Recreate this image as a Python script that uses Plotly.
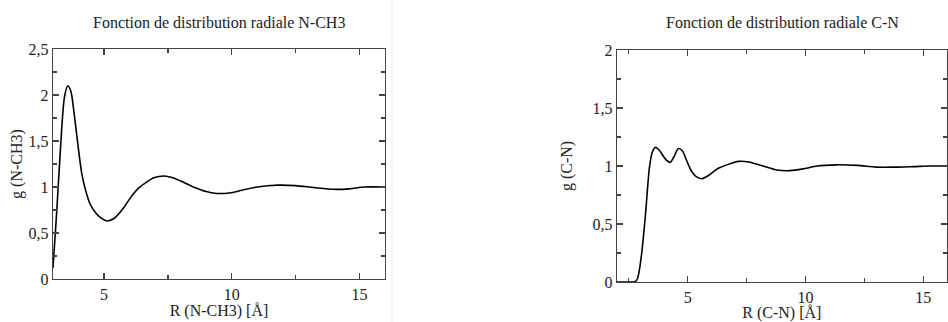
import plotly.graph_objects as go

# Left panel: N-CH3 radial distribution
r_nch3 = [3.0, 3.15, 3.3, 3.45, 3.58, 3.7, 3.8, 3.95, 4.13, 4.3, 4.46, 4.7, 4.9, 5.11, 5.4, 5.77, 6.05, 6.36, 6.65, 6.95, 7.34, 7.7, 8.0, 8.5, 9.0, 9.4, 9.9, 10.4, 11.0, 11.8, 12.5, 13.2, 14.0, 14.6, 15.2, 16.0]
g_nch3 = [0.12, 0.75, 1.45, 1.98, 2.10, 2.04, 1.86, 1.52, 1.14, 0.94, 0.81, 0.71, 0.66, 0.63, 0.66, 0.775, 0.89, 0.99, 1.05, 1.10, 1.12, 1.10, 1.065, 1.0, 0.95, 0.93, 0.935, 0.965, 1.0, 1.02, 1.015, 0.995, 0.975, 0.98, 1.0, 1.0]

# Right panel: C-N radial distribution
r_cn = [2.0, 2.6, 2.75, 2.85, 2.92, 3.05, 3.2, 3.38, 3.5, 3.62, 3.78, 3.95, 4.1, 4.26, 4.42, 4.61, 4.78, 4.95, 5.15, 5.35, 5.6, 5.9, 6.3, 6.8, 7.15, 7.6, 8.2, 8.8, 9.34, 9.9, 10.5, 11.3, 12.2, 13.0, 13.8, 14.6, 15.3, 16.0]
g_cn = [0.0, 0.0, 0.0, 0.02, 0.07, 0.25, 0.56, 0.99, 1.12, 1.16, 1.14, 1.09, 1.05, 1.03, 1.08, 1.15, 1.13, 1.05, 0.96, 0.91, 0.89, 0.92, 0.98, 1.02, 1.04, 1.035, 1.0, 0.965, 0.96, 0.975, 1.0, 1.01, 1.005, 0.99, 0.99, 0.995, 1.0, 1.0]

titles = ["Fonction de distribution radiale N-CH3", "Fonction de distribution radiale C-N"]
xlabels = ["R (N-CH3) [Å]", "R (C-N) [Å]"]
ylabels = ["g (N-CH3)", "g (C-N)"]

FONT = "Times New Roman, Liberation Serif, serif"
AX = "#444444"

fig = go.Figure()
fig.add_trace(go.Scatter(x=r_nch3, y=g_nch3, mode="lines", line=dict(color="black", width=1.6, shape="spline", smoothing=0.8),
                         xaxis="x", yaxis="y", showlegend=False, hoverinfo="skip"))
fig.add_trace(go.Scatter(x=r_cn, y=g_cn, mode="lines", line=dict(color="black", width=1.6, shape="spline", smoothing=0.8),
                         xaxis="x2", yaxis="y2", showlegend=False, hoverinfo="skip"))

W, H = 948, 322
def xd(a, b):
    return [a / W, b / W]
def yd(top, bot):
    return [(H - bot) / H, (H - top) / H]

def axis(**kw):
    d = dict(showline=True, linecolor=AX, linewidth=1.3, mirror="ticks", ticks="inside", ticklen=6,
             tickcolor=AX, tickwidth=1.3, showgrid=False, zeroline=False, automargin=False,
             tickfont=dict(family=FONT, size=16, color="#222"),
             title_font=dict(family=FONT, size=16, color="#222"))
    d.update(kw)
    return d

fig.update_layout(
    width=W, height=H, margin=dict(l=0, r=0, t=0, b=0),
    paper_bgcolor="white", plot_bgcolor="white", separators=", ",
    font=dict(family=FONT),
    xaxis=axis(domain=xd(53, 385), range=[3, 16], tick0=0, dtick=5, anchor="y",
               minor=dict(dtick=2.5, ticks="inside", ticklen=4, tickcolor=AX, tickwidth=1.3),
               title=dict(text=xlabels[0], standoff=0)),
    yaxis=axis(domain=yd(49, 279), range=[0, 2.5], dtick=0.5, anchor="x",
               minor=dict(dtick=0.25, ticks="inside", ticklen=4, tickcolor=AX, tickwidth=1.3),
               title=dict(text=ylabels[0], standoff=2)),
    xaxis2=axis(domain=xd(617, 946.7), range=[2, 16], tick0=0, dtick=5, anchor="y2",
                minor=dict(dtick=2.5, ticks="inside", ticklen=4, tickcolor=AX, tickwidth=1.3),
                title=dict(text=xlabels[1], standoff=0)),
    yaxis2=axis(domain=yd(50, 282), range=[0, 2], dtick=0.5, anchor="x2",
                minor=dict(dtick=0.25, ticks="inside", ticklen=4, tickcolor=AX, tickwidth=1.3),
                title=dict(text=ylabels[1], standoff=16)),
    annotations=[
        dict(text=titles[0], x=219 / W, y=(H - 22) / H, xref="paper", yref="paper", showarrow=False,
             font=dict(family=FONT, size=16, color="#222"), xanchor="center", yanchor="middle"),
        dict(text=titles[1], x=782 / W, y=(H - 22) / H, xref="paper", yref="paper", showarrow=False,
             font=dict(family=FONT, size=16, color="#222"), xanchor="center", yanchor="middle"),
    ],
    shapes=[dict(type="line", xref="paper", yref="paper", x0=392 / W, x1=392 / W, y0=0, y1=1,
                 line=dict(color="#f6dede", width=1))],
)

fig.write_html("out.html", config={"displayModeBar": False, "staticPlot": True},
               post_script="document.body.style.margin='0';document.body.style.overflow='hidden';")
